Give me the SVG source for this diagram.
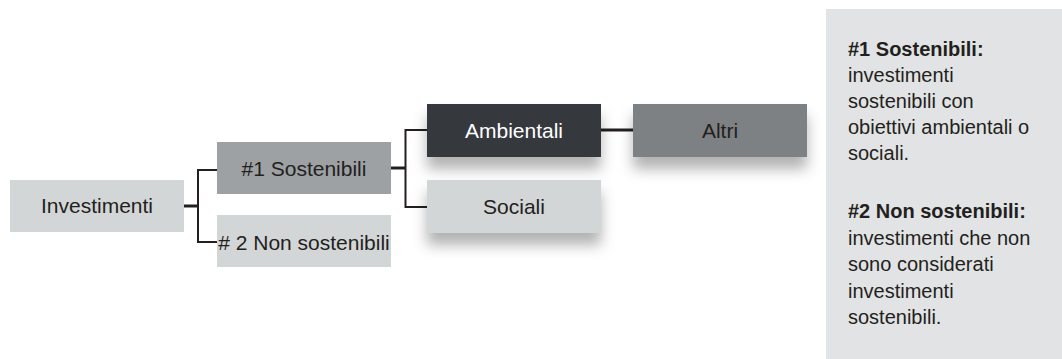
<svg xmlns="http://www.w3.org/2000/svg" width="1062" height="359" viewBox="0 0 1062 359">
<defs>
<filter id="sh" x="-20%" y="-30%" width="140%" height="220%">
<feDropShadow dx="0" dy="12" stdDeviation="7" flood-color="#000" flood-opacity="0.3"/>
</filter>
</defs>
<style>
text{font-family:"Liberation Sans",Arial,sans-serif;fill:#231f20}
.lbl{font-size:21px;text-anchor:middle}
.pn{font-size:20px}
.b{font-weight:bold}
.ln{fill:none;stroke:#231f20;stroke-width:2}
.lt{fill:none;stroke:#231f20;stroke-width:3}
</style>
<rect width="1062" height="359" fill="#ffffff"/>
<g id="connectors">
<line class="lt" x1="184" y1="206" x2="198" y2="206"/>
<polyline class="ln" points="217,170 198,170 198,242 217,242"/>
<line class="lt" x1="391" y1="168" x2="405" y2="168"/>
<polyline class="ln" points="427,130 405.5,130 405.5,207 427,207"/>
<line class="lt" x1="601" y1="130" x2="633" y2="130"/>
</g>
<g id="node-investimenti">
<rect x="10" y="180" width="174" height="52" fill="#d3d6d7"/>
<text class="lbl" x="97" y="213">Investimenti</text>
</g>
<g id="node-sostenibili">
<rect x="217" y="142" width="174" height="52" fill="#9da1a4"/>
<text class="lbl" x="304" y="176">#1 Sostenibili</text>
</g>
<g id="node-non-sostenibili">
<rect x="217" y="215" width="174" height="52" fill="#d3d6d7"/>
<text class="lbl" x="304" y="249.5"># 2 Non sostenibili</text>
</g>
<g id="node-ambientali">
<rect x="427" y="104" width="174" height="53" fill="#36393c" filter="url(#sh)"/>
<text class="lbl" x="514" y="138" style="fill:#ffffff">Ambientali</text>
</g>
<g id="node-altri">
<rect x="633" y="104" width="174" height="53" fill="#7e8184" filter="url(#sh)"/>
<text class="lbl" x="720" y="138">Altri</text>
</g>
<g id="node-sociali">
<rect x="427" y="180" width="174" height="53" fill="#d3d6d7" filter="url(#sh)"/>
<text class="lbl" x="514" y="214">Sociali</text>
</g>
<g id="legend">
<rect x="826" y="9" width="236" height="350" fill="#e2e3e4"/>
<text class="pn b" x="848" y="55.5">#1 Sostenibili:</text>
<text class="pn" x="848" y="81.5">investimenti</text>
<text class="pn" x="848" y="108">sostenibili con</text>
<text class="pn" x="848" y="134">obiettivi ambientali o</text>
<text class="pn" x="848" y="160">sociali.</text>
<text class="pn b" x="848" y="218">#2 Non sostenibili:</text>
<text class="pn" x="848" y="244.5">investimenti che non</text>
<text class="pn" x="848" y="271">sono considerati</text>
<text class="pn" x="848" y="297.5">investimenti</text>
<text class="pn" x="848" y="324">sostenibili.</text>
</g>
</svg>
